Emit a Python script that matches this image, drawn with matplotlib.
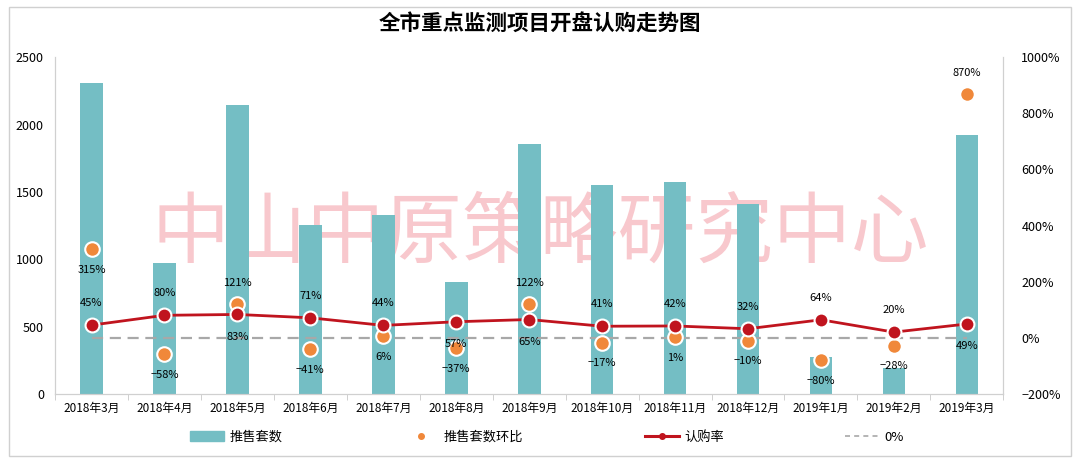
import matplotlib.pyplot as plt
import matplotlib.patches as mpatches
from matplotlib.lines import Line2D
from matplotlib.ticker import FuncFormatter
import numpy as np

plt.rcParams['font.family'] = ['Noto Sans CJK SC', 'DejaVu Sans']
plt.rcParams['axes.unicode_minus'] = False

months = ['2018年3月', '2018年4月', '2018年5月', '2018年6月', '2018年7月', '2018年8月', '2018年9月',
          '2018年10月', '2018年11月', '2018年12月', '2019年1月', '2019年2月', '2019年3月']
supply = [2310, 970, 2145, 1255, 1330, 830, 1855, 1550, 1575, 1410, 275, 195, 1920]
supply_mom = [315, -58, 121, -41, 6, -37, 122, -17, 1, -10, -80, -28, 870]
sub_rate = [45, 80, 83, 71, 44, 57, 65, 41, 42, 32, 64, 20, 49]

# label side: 1 above, -1 below
mom_side = [-1, -1, 1, -1, -1, -1, 1, -1, -1, -1, -1, -1, 1]
rate_side = [1, 1, -1, 1, 1, -1, -1, 1, 1, 1, 1, 1, -1]

bar_c = '#74bec4'
red_c = '#c0141e'
org_c = '#f0883a'


def pct(v):
    return f'{v}%'.replace('-', '\u2212')


x = np.arange(len(months))

fig = plt.figure(figsize=(10.8, 4.65), dpi=100)
fig.patches.append(mpatches.Rectangle((0.008, 0.02), 0.984, 0.965, transform=fig.transFigure,
                                      fill=False, edgecolor='#d0d0d0', lw=1))
ax = fig.add_axes([0.051, 0.153, 0.878, 0.724])
ax2 = ax.twinx()

# watermark
ax.text(6.15, 1180, '中山中原策略研究中心', fontsize=56, color='#f8c8cd',
        ha='center', va='center', zorder=0)
ax.bar(x, supply, width=0.31, color=bar_c, zorder=2)
ax.set_ylim(0, 2500)
ax.set_xlim(-0.5, len(months) - 0.5)
ax.set_yticks(range(0, 2501, 500))
ax.set_xticks(x)
ax.set_xticklabels(months, fontsize=8.5)
ax.set_xticks(np.arange(-0.5, len(months), 1), minor=True)
ax.tick_params(axis='x', which='major', length=0, pad=6)
ax.tick_params(axis='x', which='minor', length=4, color='#c8c8c8')
ax.tick_params(axis='y', length=0, labelsize=9, pad=8)

ax2.set_ylim(-200, 1000)
ax2.set_yticks(range(-200, 1001, 200))
ax2.yaxis.set_major_formatter(FuncFormatter(lambda v, p: pct(int(v))))
ax2.tick_params(axis='y', length=0, labelsize=9, pad=13)

for a in (ax, ax2):
    a.spines['top'].set_visible(False)
    for s in ('left', 'right', 'bottom'):
        a.spines[s].set_color('#d0d0d0')

ax2.plot([x[0], x[-1]], [0, 0], ls=(0, (5, 3)), color='#a8a8a8', lw=1.6, zorder=2)
ax2.plot(x, sub_rate, color=red_c, lw=2, marker='o', ms=10, mfc=red_c, mec='white', mew=1.5, zorder=4)
ax2.scatter(x, supply_mom, s=110, color=org_c, edgecolors='white', linewidths=1.5, zorder=3)

for i in range(len(months)):
    ax2.annotate(pct(supply_mom[i]), (x[i], supply_mom[i]), xytext=(0, 15 * mom_side[i]),
                 textcoords='offset points', ha='center', va='center', fontsize=8, zorder=5)
    ax2.annotate(pct(sub_rate[i]), (x[i], sub_rate[i]), xytext=(0, 16 * rate_side[i]),
                 textcoords='offset points', ha='center', va='center', fontsize=8, zorder=5)

fig.text(0.5, 0.948, '全市重点监测项目开盘认购走势图', ha='center', va='center', fontsize=15.5, fontweight='bold')

handles = [mpatches.Patch(color=bar_c),
           Line2D([], [], ls='none', marker='o', ms=4, color=org_c),
           Line2D([], [], color=red_c, lw=2.2, marker='o', ms=4),
           Line2D([], [], color='#a8a8a8', ls=(0, (3, 2.5)), lw=1.2)]
fig.legend(handles, ['推售套数', '推售套数环比', '认购率', '0%'], loc='center left',
           bbox_to_anchor=(0.176, 0.06), borderaxespad=0, borderpad=0,
           ncol=4, frameon=False, fontsize=9.5, columnspacing=9.2, handlelength=2.6, handletextpad=0.4)

plt.savefig('out.png', dpi=100)
